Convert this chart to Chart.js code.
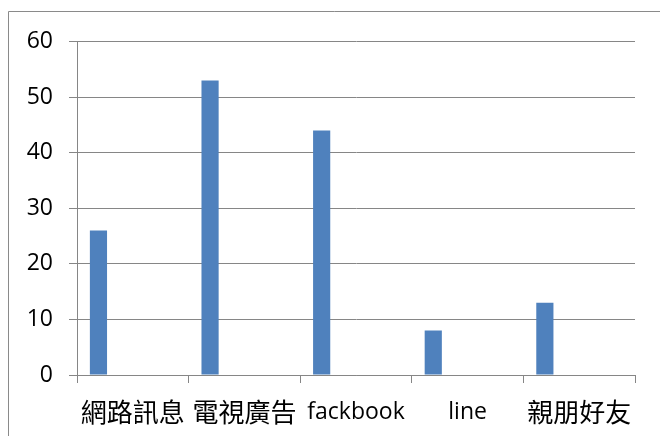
<!DOCTYPE html>
<html>
<head>
<meta charset="utf-8">
<script src="https://cdn.jsdelivr.net/npm/chart.js@4"></script>
<style>
  html, body { margin: 0; padding: 0; background: #fff; }
  #wrap { position: relative; width: 660px; height: 436px; }
</style>
</head>
<body>
<div id="wrap"><canvas id="c" width="660" height="436"></canvas></div>
<script>
// ---- data ----
const categories = ["網路訊息", "電視廣告", "fackbook", "line", "親朋好友"];
const values = [26, 53, 44, 8, 13];
const emptySeries = [null, null, null, null, null];
const yTicks = [0, 10, 20, 30, 40, 50, 60];

const gray = "#868686";
const barColor = "#4F81BD";
const latin = "'Open Sans', 'Noto Sans CJK TC', sans-serif";

const framePlugin = {
  id: "frame",
  beforeDraw(chart) {
    const ctx = chart.ctx;
    ctx.save();
    ctx.fillStyle = "#fff";
    ctx.fillRect(0, 0, chart.width, chart.height);
    ctx.strokeStyle = "#8a8a8a";
    ctx.lineWidth = 1;
    ctx.beginPath();
    ctx.moveTo(8.5, chart.height + 2);
    ctx.lineTo(8.5, 11.5);
    ctx.lineTo(chart.width + 2, 11.5);
    ctx.stroke();
    ctx.restore();
  }
};

const datasets = [
  { data: values, backgroundColor: barColor, borderWidth: 0 },
  { data: emptySeries, backgroundColor: barColor },
  { data: emptySeries, backgroundColor: barColor },
  { data: emptySeries, backgroundColor: barColor },
  { data: emptySeries, backgroundColor: barColor }
];

new Chart(document.getElementById("c"), {
  type: "bar",
  data: { labels: categories, datasets: datasets },
  plugins: [framePlugin],
  options: {
    responsive: false,
    animation: false,
    events: [],
    datasets: { bar: { categoryPercentage: 5 / 6.5, barPercentage: 1 } },
    layout: { padding: { top: 41.7, right: 25, left: 0, bottom: 0 } },
    plugins: { legend: { display: false }, tooltip: { enabled: false }, title: { display: false } },
    scales: {
      x: {
        offset: true,
        grid: { offset: true, drawOnChartArea: false, drawTicks: true, tickLength: 8, color: gray, lineWidth: 1 },
        border: { color: gray, width: 1 },
        ticks: {
          padding: 14,
          color: "#000",
          maxRotation: 0,
          autoSkip: false,
          font: (ctx) => {
            const lbl = categories[ctx.index] || "";
            const cjk = /[\u4e00-\u9fff]/.test(lbl);
            return cjk
              ? { family: "'Noto Sans CJK TC', sans-serif", size: 26, lineHeight: 1.2 }
              : { family: latin, size: 23, lineHeight: 1.38 };
          }
        },
        afterFit: (s) => { s.height = 61; }
      },
      y: {
        min: yTicks[0],
        max: yTicks[yTicks.length - 1],
        afterBuildTicks: (s) => { s.ticks = yTicks.map(v => ({ value: v })); },
        grid: { color: gray, lineWidth: 1, tickLength: 8, drawTicks: true },
        border: { color: gray, width: 1 },
        ticks: { padding: 16, color: "#000", font: { family: latin, size: 23 } },
        afterFit: (s) => { s.width = 77; }
      }
    }
  }
});
</script>
</body>
</html>
